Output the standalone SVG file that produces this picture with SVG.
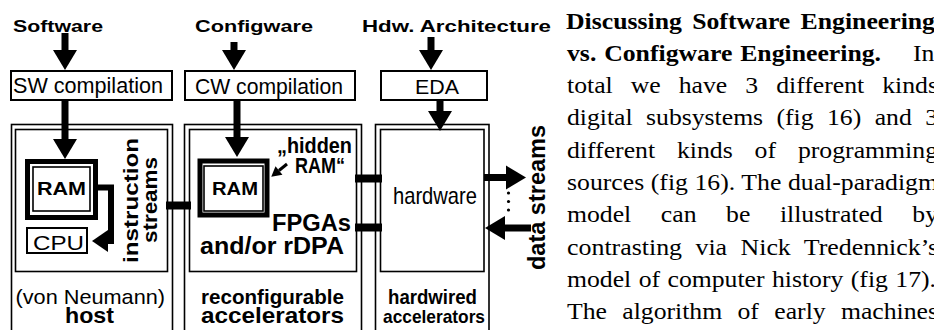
<svg xmlns="http://www.w3.org/2000/svg" width="934" height="330" viewBox="0 0 934 330">
<style>
  .sans { font-family: "Liberation Sans", Arial, sans-serif; fill: #000; }
  .b { font-weight: bold; }
  .serif { font-family: "Liberation Serif", "Times New Roman", serif; font-size: 23px; fill: #000; }
  .box { fill: #fff; stroke: #000; stroke-width: 2; }
  .thin { fill: none; stroke: #000; stroke-width: 1.6; }
  .fat { fill: none; stroke: #000; stroke-width: 5; }
  .shaft { fill: none; stroke: #000; stroke-width: 7; }
  .link { fill: none; stroke: #000; stroke-width: 6; stroke-linejoin: miter; }
  .bar { stroke: #000; stroke-width: 8; }
  .dot { fill: #000; }
</style>
<defs>
  <marker id="head" markerUnits="userSpaceOnUse" markerWidth="20" markerHeight="24" refX="0" refY="12" orient="auto" overflow="visible">
    <path d="M0,0 L20,12 L0,24 Z" fill="#000"/>
  </marker>
  <marker id="headS" markerUnits="userSpaceOnUse" markerWidth="16" markerHeight="22" refX="0" refY="11" orient="auto" overflow="visible">
    <path d="M0,0 L16,11 L0,22 Z" fill="#000"/>
  </marker>
  <marker id="headT" markerUnits="userSpaceOnUse" markerWidth="10" markerHeight="11" refX="0" refY="5.5" orient="auto" overflow="visible">
    <path d="M0,0 L10,5.5 L0,11 Z" fill="#000"/>
  </marker>
</defs>

<rect width="934" height="330" fill="#fff"/>

<!-- source titles -->
<g id="title-software">
  <text class="sans b" x="13" y="32" font-size="17" textLength="90" lengthAdjust="spacingAndGlyphs">Software</text>
</g>
<g id="title-configware">
  <text class="sans b" x="195" y="32" font-size="17" textLength="118" lengthAdjust="spacingAndGlyphs">Configware</text>
</g>
<g id="title-hardware">
  <text class="sans b" x="362" y="32" font-size="17" textLength="189" lengthAdjust="spacingAndGlyphs">Hdw. Architecture</text>
</g>

<!-- compilation steps -->
<g id="sw-compilation">
  <rect class="box" x="11" y="71" width="161" height="29"/>
  <text class="sans" x="13" y="93" font-size="22" textLength="150" lengthAdjust="spacingAndGlyphs">SW compilation</text>
</g>
<g id="cw-compilation">
  <rect class="box" x="185" y="71" width="170" height="29"/>
  <text class="sans" x="195" y="94" font-size="22" textLength="148" lengthAdjust="spacingAndGlyphs">CW compilation</text>
</g>
<g id="eda">
  <rect class="box" x="381" y="71" width="106" height="29"/>
  <text class="sans" x="415" y="94" font-size="21" textLength="44" lengthAdjust="spacingAndGlyphs">EDA</text>
</g>

<!-- von Neumann host -->
<g id="host">
  <rect class="thin" x="11.5" y="124.5" width="161" height="230"/>
  <rect class="thin" x="15.5" y="129.5" width="152" height="142"/>
  <rect class="fat" x="27.5" y="161.5" width="68" height="56"/>
  <rect class="thin" x="33" y="167" width="57" height="44"/>
  <text class="sans b" x="37" y="195" font-size="18.5" textLength="49" lengthAdjust="spacingAndGlyphs">RAM</text>
  <rect class="box" x="27" y="228" width="60" height="25"/>
  <text class="sans" x="33" y="249.5" font-size="19.5" textLength="51" lengthAdjust="spacingAndGlyphs">CPU</text>
  <text class="sans b" transform="translate(137.5,263) rotate(-90)" font-size="19.5" textLength="125" lengthAdjust="spacingAndGlyphs">instruction</text>
  <text class="sans b" transform="translate(157,243) rotate(-90)" font-size="19.5" textLength="86" lengthAdjust="spacingAndGlyphs">streams</text>
  <text class="sans" x="15.5" y="304" font-size="21" textLength="149.5" lengthAdjust="spacingAndGlyphs">(von Neumann)</text>
  <text class="sans b" x="65" y="323" font-size="21.5" textLength="49" lengthAdjust="spacingAndGlyphs">host</text>
</g>

<!-- reconfigurable accelerators -->
<g id="reconfigurable">
  <rect class="thin" x="184.5" y="124.5" width="177" height="230"/>
  <rect class="thin" x="189.5" y="129.5" width="167" height="142"/>
  <rect class="fat" x="200" y="161" width="67" height="54"/>
  <rect class="thin" x="204" y="166" width="59" height="45"/>
  <text class="sans b" x="212" y="195" font-size="18.5" textLength="46" lengthAdjust="spacingAndGlyphs">RAM</text>
  <text class="sans b" x="277" y="153" font-size="22" textLength="75" lengthAdjust="spacingAndGlyphs">„hidden</text>
  <text class="sans b" x="295" y="173" font-size="22" textLength="50" lengthAdjust="spacingAndGlyphs">RAM“</text>
  <text class="sans b" x="272" y="231" font-size="23" textLength="79" lengthAdjust="spacingAndGlyphs">FPGAs</text>
  <text class="sans b" x="200" y="254" font-size="23" textLength="144" lengthAdjust="spacingAndGlyphs">and/or rDPA</text>
  <text class="sans b" x="201" y="304" font-size="21" textLength="143" lengthAdjust="spacingAndGlyphs">reconfigurable</text>
  <text class="sans b" x="201" y="323" font-size="21.5" textLength="143" lengthAdjust="spacingAndGlyphs">accelerators</text>
</g>

<!-- hardwired accelerators -->
<g id="hardwired">
  <rect class="thin" x="375.5" y="124.5" width="113.5" height="230"/>
  <rect class="thin" x="380.5" y="129.5" width="103.5" height="142"/>
  <text class="sans" x="393" y="204" font-size="24" textLength="84" lengthAdjust="spacingAndGlyphs">hardware</text>
  <text class="sans b" x="388" y="304" font-size="21" textLength="89" lengthAdjust="spacingAndGlyphs">hardwired</text>
  <text class="sans b" x="383" y="323" font-size="19" textLength="102" lengthAdjust="spacingAndGlyphs">accelerators</text>
</g>

<!-- data streams label -->
<g id="data-streams">
  <text class="sans b" transform="translate(545,270) rotate(-90)" font-size="23" textLength="145" lengthAdjust="spacingAndGlyphs">data streams</text>
  <circle class="dot" cx="508.5" cy="193" r="1.6"/>
  <circle class="dot" cx="508.5" cy="201.5" r="1.6"/>
  <circle class="dot" cx="508.5" cy="210" r="1.6"/>
</g>

<!-- arrows and links -->
<g id="connectors">
  <line class="shaft" x1="65" y1="33" x2="65" y2="50" marker-end="url(#head)"/>
  <line class="shaft" x1="234" y1="42" x2="234" y2="50" marker-end="url(#head)"/>
  <line class="shaft" x1="431" y1="37" x2="431" y2="50" marker-end="url(#head)"/>
  <line class="shaft" x1="65" y1="100" x2="65" y2="139" marker-end="url(#head)"/>
  <line class="shaft" x1="237" y1="100" x2="237" y2="137" marker-end="url(#head)"/>
  <line class="shaft" x1="440" y1="100" x2="440" y2="111" marker-end="url(#head)"/>
  <path class="link" d="M98,187.5 H111 V241 H108" marker-end="url(#headS)"/>
  <line x1="287" y1="164" x2="279" y2="170.5" stroke="#000" stroke-width="3" marker-end="url(#headT)"/>
  <line class="bar" x1="166" y1="205.5" x2="191" y2="205.5"/>
  <line class="bar" x1="355" y1="178.5" x2="382" y2="178.5"/>
  <line class="bar" x1="355" y1="227.5" x2="382" y2="227.5"/>
  <line class="shaft" x1="484" y1="177.5" x2="506" y2="177.5" marker-end="url(#head)"/>
  <line class="shaft" x1="531" y1="228" x2="505" y2="228" marker-end="url(#head)"/>
</g>

<!-- running text column -->
<g id="paragraph">
  <text class="serif b" x="566" y="29" textLength="369" lengthAdjust="spacingAndGlyphs" word-spacing="3.5">Discussing Software Engineering</text>
  <text class="serif b" x="567" y="61" textLength="314" lengthAdjust="spacingAndGlyphs" word-spacing="1.25">vs. Configware Engineering.</text>
  <text class="serif" x="913" y="61" textLength="21.4" lengthAdjust="spacingAndGlyphs">In</text>
  <text class="serif" x="567" y="93" textLength="371" lengthAdjust="spacingAndGlyphs" word-spacing="10.34">total we have 3 different kinds</text>
  <text class="serif" x="567" y="125" textLength="371" lengthAdjust="spacingAndGlyphs" word-spacing="6.24">digital subsystems (fig 16) and 3</text>
  <text class="serif" x="567" y="157.5" textLength="371" lengthAdjust="spacingAndGlyphs" word-spacing="13.8">different kinds of programming</text>
  <text class="serif" x="567" y="190" textLength="371" lengthAdjust="spacingAndGlyphs" word-spacing="0.15">sources (fig 16). The dual-paradigm</text>
  <text class="serif" x="567" y="222" textLength="371" lengthAdjust="spacingAndGlyphs" word-spacing="20.75">model can be illustrated by</text>
  <text class="serif" x="567" y="254.5" textLength="371" lengthAdjust="spacingAndGlyphs" word-spacing="6.17">contrasting via Nick Tredennick’s</text>
  <text class="serif" x="567" y="287" textLength="369" lengthAdjust="spacingAndGlyphs" word-spacing="0.9">model of computer history (fig 17).</text>
  <text class="serif" x="567" y="319" textLength="371" lengthAdjust="spacingAndGlyphs" word-spacing="7.97">The algorithm of early machines</text>
</g>
</svg>
